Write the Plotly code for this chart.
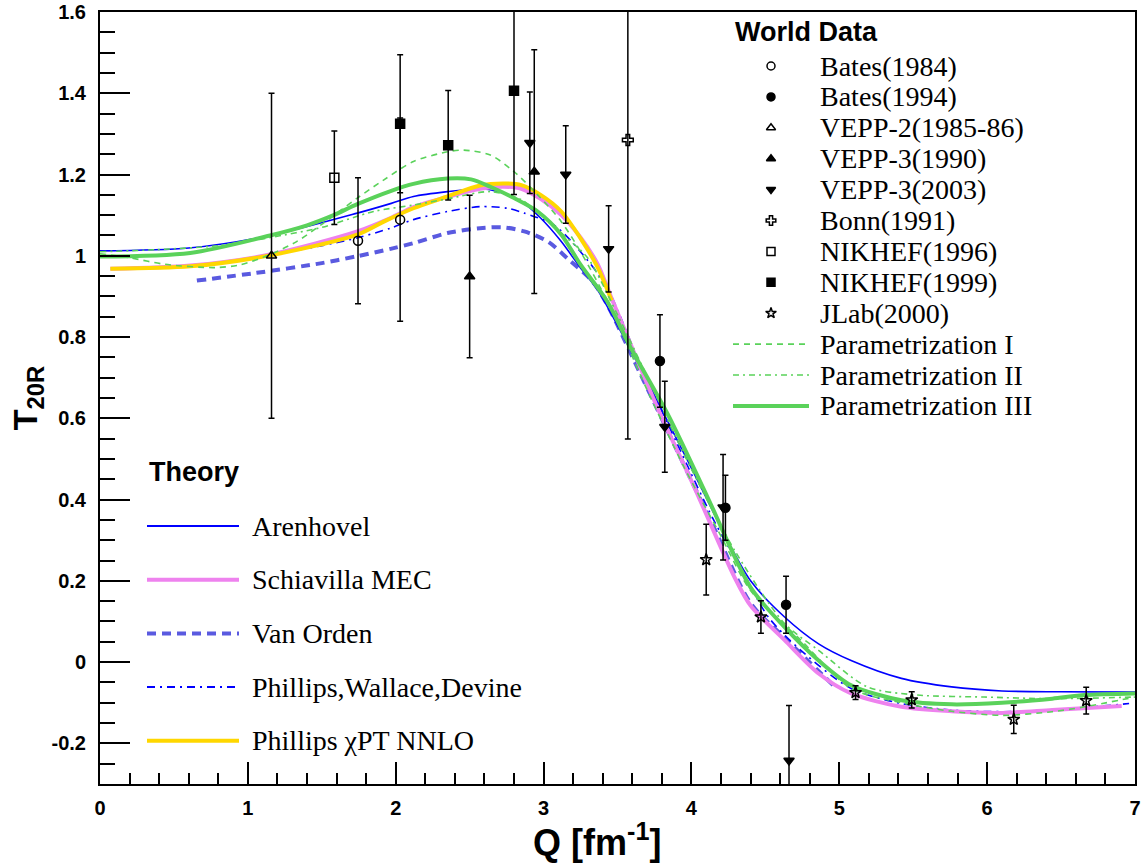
import plotly.graph_objects as go

# ---------------- World data (Q [fm^-1], T20R, error) ----------------
bates84_q = [1.745, 2.03]
bates84_t = [1.037, 1.089]
bates84_err = [0.155, 0.25]

bates94_q = [3.787, 4.23, 4.64]
bates94_t = [0.741, 0.38, 0.141]
bates94_err = [0.114, 0.08, 0.07]

vepp2_q = [1.16]
vepp2_t = [1.0]
vepp2_err = [0.4]

vepp3_90_q = [2.50, 2.937]
vepp3_90_t = [0.949, 1.207]
vepp3_90_err = [0.2, 0.3]

vepp3_03_q = [2.907, 3.15, 3.44, 3.82, 4.214, 4.66]
vepp3_03_t = [1.278, 1.20, 1.017, 0.579, 0.381, -0.242]
vepp3_03_err = [0.125, 0.12, 0.106, 0.112, 0.13, 0.135]

bonn_q = [3.57]
bonn_t = [1.285]
bonn_err = [0.736]

nikhef96_q = [1.585]
nikhef96_t = [1.192]
nikhef96_err = [0.115]

nikhef99_q = [2.03, 2.355, 2.80]
nikhef99_t = [1.325, 1.272, 1.406]
nikhef99_err = [0.17, 0.135, 0.255]

jlab_q = [4.10, 4.47, 5.11, 5.49, 6.18, 6.67]
jlab_t = [0.252, 0.111, -0.075, -0.093, -0.141, -0.095]
jlab_err = [0.087, 0.04, 0.017, 0.02, 0.035, 0.033]

# ---------------- Theory curves ----------------
arenhovel_q = [0, 0.6, 1.15, 1.74, 1.97, 2.12, 2.35, 2.57, 2.69, 2.85, 2.98, 3.12, 3.25, 3.37,
               3.6, 3.85, 4.1, 4.25, 4.4, 4.63, 4.86, 5.08, 5.42, 5.76, 6.1, 6.5, 7.0]
arenhovel_t = [1.012, 1.019, 1.05, 1.105, 1.129, 1.146, 1.158, 1.165, 1.158, 1.134, 1.093, 1.035, 0.97, 0.913,
               0.76, 0.585, 0.405, 0.295, 0.20, 0.111, 0.045, 0.004, -0.04, -0.061, -0.071, -0.073, -0.074]

schiavilla_q = [0.07, 0.61, 1.15, 1.74, 1.965, 2.12, 2.35, 2.57, 2.73, 2.85, 2.98, 3.12, 3.25, 3.365,
                3.455, 3.77, 4.02, 4.29, 4.40, 4.63, 4.86, 5.08, 5.42, 5.76, 6.10, 6.44, 6.91]
schiavilla_t = [0.968, 0.976, 1.003, 1.06, 1.093, 1.12, 1.145, 1.165, 1.17, 1.165, 1.14, 1.10, 1.045, 0.98,
                0.9, 0.626, 0.43, 0.21, 0.139, 0.054, -0.028, -0.077, -0.11, -0.121, -0.125, -0.118, -0.108]

vanorden_q = [0.655, 1.06, 1.5, 1.74, 1.965, 2.12, 2.35, 2.57, 2.73, 2.87, 3.03, 3.16, 3.33, 3.43,
              3.65, 3.9, 4.15, 4.40, 4.63, 4.97]
vanorden_t = [0.939, 0.958, 0.982, 0.999, 1.017, 1.031, 1.056, 1.068, 1.07, 1.06, 1.035, 0.994, 0.937, 0.88,
              0.713, 0.523, 0.333, 0.145, 0.06, -0.061]

pwd_q = [1.2, 1.5, 1.75, 1.965, 2.12, 2.35, 2.57, 2.755, 2.87, 3.07, 3.25, 3.43, 3.65, 3.9, 4.15,
         4.35, 4.52, 4.74, 5.08, 5.42, 5.76, 6.10, 6.44, 6.96]
pwd_t = [1.005, 1.025, 1.045, 1.068, 1.089, 1.109, 1.121, 1.117, 1.105, 1.076, 1.01, 0.921, 0.735, 0.54, 0.35,
         0.22, 0.111, 0.029, -0.065, -0.102, -0.118, -0.122, -0.118, -0.102]

chipt_q = [0.07, 0.61, 1.15, 1.74, 1.93, 2.12, 2.35, 2.57, 2.73, 2.85, 2.98, 3.12, 3.25, 3.365, 3.46]
chipt_t = [0.968, 0.974, 1.001, 1.052, 1.086, 1.117, 1.146, 1.173, 1.178, 1.174, 1.15, 1.109, 1.043, 0.972, 0.89]

param1_q = [0, 0.19, 0.44, 0.78, 0.95, 1.15, 1.33, 1.51, 1.74, 1.92, 2.12, 2.35, 2.46, 2.64, 2.80, 2.96,
            3.12, 3.25, 3.45, 3.7, 3.95, 4.2, 4.40, 4.74, 5.08, 5.42, 5.76, 6.10, 6.44, 6.66, 7.0]
param1_t = [1.005, 0.996, 0.979, 0.971, 0.978, 1.003, 1.035, 1.08, 1.142, 1.187, 1.232, 1.256, 1.26, 1.248,
            1.207, 1.15, 1.084, 1.01, 0.875, 0.67, 0.48, 0.31, 0.176, 0.054, -0.065, -0.10, -0.121, -0.131,
            -0.122, -0.11, -0.086]

param2_q = [0, 0.38, 0.8, 1.15, 1.5, 1.85, 2.12, 2.35, 2.64, 2.85, 2.98, 3.16, 3.30, 3.5, 3.75, 4.0, 4.3,
            4.63, 4.86, 5.19, 5.53, 5.98, 6.44, 7.0]
param2_t = [1.01, 1.015, 1.025, 1.045, 1.07, 1.109, 1.125, 1.14, 1.158, 1.138, 1.10, 1.043, 0.994, 0.855,
            0.665, 0.475, 0.27, 0.095, 0.029, -0.061, -0.081, -0.086, -0.09, -0.086]

param3_q = [0, 0.61, 1.15, 1.4, 1.58, 1.74, 1.97, 2.12, 2.35, 2.51, 2.64, 2.80, 2.96, 3.12, 3.25, 3.43, 3.59,
            3.84, 4.11, 4.40, 4.63, 4.86, 5.08, 5.42, 5.76, 6.10, 6.44, 6.66, 7.0]
param3_t = [0.998, 1.007, 1.05, 1.075, 1.1, 1.127, 1.16, 1.177, 1.19, 1.188, 1.17, 1.142, 1.109, 1.052, 0.978,
            0.888, 0.773, 0.61, 0.405, 0.184, 0.086, 0.004, -0.057, -0.094, -0.104, -0.10, -0.09, -0.081, -0.077]

# ---------------- Tick labels ----------------
x_tick_vals = [0, 1, 2, 3, 4, 5, 6, 7]
x_tick_text = ["0", "1", "2", "3", "4", "5", "6", "7"]
y_tick_vals = [-0.2, 0, 0.2, 0.4, 0.6, 0.8, 1.0, 1.2, 1.4, 1.6]
y_tick_text = ["-0.2", "0", "0.2", "0.4", "0.6", "0.8", "1", "1.2", "1.4", "1.6"]

SANS = "Liberation Sans"
SERIF = "Liberation Serif"

GREEN = "#5ad25a"
BLUE = "#0000ff"
VIOLET = "#ee82ee"
SLATE = "#5a5ae0"
GOLD = "#ffd700"

PLOT_TOP, PLOT_BOTTOM, PLOT_LEFT, PLOT_RIGHT = 12, 784, 100, 1135

fig = go.Figure()

# theory curves: (name, q, t, colour, width, dash)
curves = [
    ("Van Orden", vanorden_q, vanorden_t, SLATE, 4, "9px,6px"),
    ("Phillips,Wallace,Devine", pwd_q, pwd_t, BLUE, 1.6, "8px,5px,2px,5px"),
    ("Arenhovel", arenhovel_q, arenhovel_t, BLUE, 1.6, "solid"),
    ("Schiavilla MEC", schiavilla_q, schiavilla_t, VIOLET, 4, "solid"),
    ("Phillips \u03c7PT NNLO", chipt_q, chipt_t, GOLD, 4, "solid"),
    ("Parametrization I", param1_q, param1_t, GREEN, 1.6, "6px,5px"),
    ("Parametrization II", param2_q, param2_t, GREEN, 1.6, "6px,4px,2px,4px"),
    ("Parametrization III", param3_q, param3_t, GREEN, 4, "solid"),
]
for name, q, t, col, w, dash in curves:
    fig.add_trace(go.Scatter(x=q, y=t, mode="lines", name=name, showlegend=False,
                             line=dict(color=col, width=w, dash=dash, shape="spline", smoothing=0.8),
                             xaxis="x", yaxis="y"))

# data sets: (name, q, t, err, symbol)
datasets = [
    ("Bates(1984)", bates84_q, bates84_t, bates84_err, "circle-open"),
    ("Bates(1994)", bates94_q, bates94_t, bates94_err, "circle"),
    ("VEPP-2(1985-86)", vepp2_q, vepp2_t, vepp2_err, "triangle-up-open"),
    ("VEPP-3(1990)", vepp3_90_q, vepp3_90_t, vepp3_90_err, "triangle-up"),
    ("VEPP-3(2003)", vepp3_03_q, vepp3_03_t, vepp3_03_err, "triangle-down"),
    ("Bonn(1991)", bonn_q, bonn_t, bonn_err, "cross-open"),
    ("NIKHEF(1996)", nikhef96_q, nikhef96_t, nikhef96_err, "square-open"),
    ("NIKHEF(1999)", nikhef99_q, nikhef99_t, nikhef99_err, "square"),
    ("JLab(2000)", jlab_q, jlab_t, jlab_err, "star-open"),
]
for name, q, t, e, sym in datasets:
    fig.add_trace(go.Scatter(x=q, y=t, mode="markers", name=name, showlegend=False,
                             marker=dict(symbol=sym, size=9, color="black",
                                         line=dict(color="black", width=1.5)),
                             error_y=dict(type="data", array=e, color="black", thickness=1.5, width=3),
                             xaxis="x", yaxis="y"))

# ---------------- Hand-drawn legends on a pixel-space overlay ----------------
WD_TITLE = (733, 32)
WD_MARK_X, WD_LINE_X0, WD_LINE_X1, WD_TEXT_X = 771, 733, 809, 818
WD_Y0, WD_DY = 66, 30.9
TH_TITLE = (147, 472)
TH_LINE_X0, TH_LINE_X1, TH_TEXT_X = 147, 239, 250
TH_Y0, TH_DY = 526, 53.7

annotations = []
annotations.append(dict(x=WD_TITLE[0], y=WD_TITLE[1], xref="x2", yref="y2", text="<b>World Data</b>",
                        showarrow=False, xanchor="left", yanchor="middle",
                        font=dict(family=SANS, size=27, color="black")))
annotations.append(dict(x=TH_TITLE[0], y=TH_TITLE[1], xref="x2", yref="y2", text="<b>Theory</b>",
                        showarrow=False, xanchor="left", yanchor="middle",
                        font=dict(family=SANS, size=27, color="black")))

row = 0
for name, q, t, e, sym in datasets:
    yy = WD_Y0 + row * WD_DY
    fig.add_trace(go.Scatter(x=[WD_MARK_X], y=[yy], mode="markers", showlegend=False, hoverinfo="skip",
                             marker=dict(symbol=sym, size=8, color="black", line=dict(color="black", width=1.5)),
                             xaxis="x2", yaxis="y2"))
    annotations.append(dict(x=WD_TEXT_X, y=yy, xref="x2", yref="y2", text=name, showarrow=False,
                            xanchor="left", yanchor="middle", font=dict(family=SERIF, size=28, color="black")))
    row += 1
for name, q, t, col, w, dash in curves[5:]:
    yy = WD_Y0 + row * WD_DY
    fig.add_trace(go.Scatter(x=[WD_LINE_X0, WD_LINE_X1], y=[yy, yy], mode="lines", showlegend=False,
                             hoverinfo="skip", line=dict(color=col, width=w, dash=dash),
                             xaxis="x2", yaxis="y2"))
    annotations.append(dict(x=WD_TEXT_X, y=yy, xref="x2", yref="y2", text=name, showarrow=False,
                            xanchor="left", yanchor="middle", font=dict(family=SERIF, size=28, color="black")))
    row += 1

theory_order = ["Arenhovel", "Schiavilla MEC", "Van Orden", "Phillips,Wallace,Devine", "Phillips \u03c7PT NNLO"]
cmap = {c[0]: c for c in curves}
for i, nm in enumerate(theory_order):
    name, q, t, col, w, dash = cmap[nm]
    yy = TH_Y0 + i * TH_DY
    fig.add_trace(go.Scatter(x=[TH_LINE_X0, TH_LINE_X1], y=[yy, yy], mode="lines", showlegend=False,
                             hoverinfo="skip", line=dict(color=col, width=max(w, 2), dash=dash),
                             xaxis="x2", yaxis="y2"))
    annotations.append(dict(x=TH_TEXT_X, y=yy, xref="x2", yref="y2", text=name, showarrow=False,
                            xanchor="left", yanchor="middle", font=dict(family=SERIF, size=28, color="black")))

# x-axis title placed slightly left of centre, as in the reference
annotations.append(dict(x=0.48, y=-0.072, xref="paper", yref="paper", text="<b>Q [fm<sup>-1</sup>]</b>",
                        showarrow=False, xanchor="center", yanchor="middle",
                        font=dict(family=SANS, size=36, color="black")))

tickfont = dict(family=SANS, size=20, color="black")
fig.update_layout(
    width=1144, height=863,
    margin=dict(l=PLOT_LEFT, r=1144 - PLOT_RIGHT, t=PLOT_TOP, b=863 - PLOT_BOTTOM, autoexpand=False),
    paper_bgcolor="white", plot_bgcolor="rgba(0,0,0,0)",
    showlegend=False,
    xaxis=dict(domain=[0, 1], range=[0, 7], showline=True, linewidth=2, linecolor="black", mirror=True,
               ticks="inside", ticklen=22, tickwidth=2, tickcolor="black",
               tickmode="array", tickvals=x_tick_vals, ticktext=["<b>%s</b>" % s for s in x_tick_text],
               tickfont=tickfont, ticklabelstandoff=5, ticklabeloverflow="allow",
               minor=dict(ticks="inside", ticklen=11, tickwidth=2, tickcolor="black",
                          tickmode="linear", tick0=0, dtick=0.2, showgrid=False),
               showgrid=False, zeroline=False),
    yaxis=dict(domain=[0, 1], range=[-0.3, 1.6], showline=True, linewidth=2, linecolor="black", mirror=True,
               ticks="inside", ticklen=30, tickwidth=2, tickcolor="black",
               tickmode="array", tickvals=y_tick_vals, ticktext=["<b>%s</b>" % s for s in y_tick_text],
               tickfont=tickfont, ticklabelstandoff=8, ticklabeloverflow="allow",
               minor=dict(ticks="inside", ticklen=15, tickwidth=2, tickcolor="black",
                          tickmode="linear", tick0=0, dtick=0.05, showgrid=False),
               showgrid=False, zeroline=False,
               title=dict(text="<b>T<sub>20R</sub></b>", standoff=4,
                          font=dict(family=SANS, size=34, color="black"))),
    xaxis2=dict(domain=[0, 1], range=[PLOT_LEFT, PLOT_RIGHT], anchor="y2", visible=False, fixedrange=True),
    yaxis2=dict(domain=[0, 1], range=[PLOT_BOTTOM, PLOT_TOP], anchor="x2", visible=False, fixedrange=True),
    annotations=annotations,
)

fig.write_html("out.html")
